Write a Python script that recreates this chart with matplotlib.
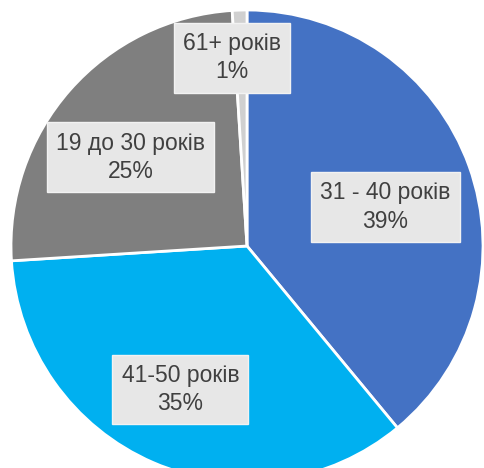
import matplotlib
matplotlib.use("Agg")
import matplotlib.pyplot as plt
import numpy as np

labels = ["31 - 40 років", "41-50 років", "19 до 30 років", "61+ років"]
values = [39, 35, 25, 1]
colors = ["#4472C4", "#00B0F0", "#7F7F7F", "#D0D0D0"]
label_dist = [0.61, 0.67, 0.62, 0.80]
label_angle_adj = [-4.1, -1.5, 4.1, 2.7]

fig = plt.figure(figsize=(4.84, 4.68), dpi=100)
ax = fig.add_axes([11/484, -14/468, 472/484, 472/468])
wedges, _ = ax.pie(values, colors=colors, startangle=90, counterclock=False,
                   wedgeprops=dict(edgecolor="white", linewidth=2))
ax.set_xlim(-1, 1)
ax.set_ylim(-1, 1)
ax.set_aspect("equal")
ax.axis("off")

for w, lab, v, d, adj in zip(wedges, labels, values, label_dist, label_angle_adj):
    ang = np.deg2rad((w.theta1 + w.theta2) / 2 + adj)
    ax.text(d * np.cos(ang), d * np.sin(ang), f"{lab}\n{v}%",
            ha="center", va="center", fontsize=16.5, color="#404040",
            family="Liberation Sans", linespacing=1.3,
            bbox=dict(boxstyle="square,pad=0.4", fc="#E7E7E7", ec="#F2F2F2", lw=1))

fig.savefig("out.png", dpi=100)
